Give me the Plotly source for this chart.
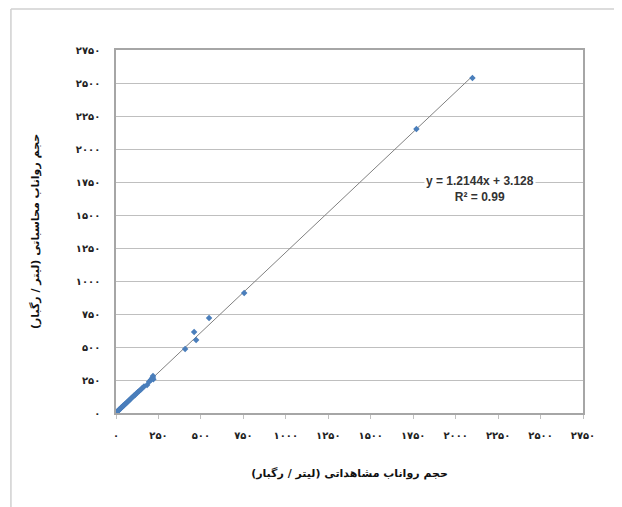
import plotly.graph_objects as go

# observed (x) vs simulated (y) runoff volume, litre per storm
observed = [3, 6, 9, 12, 15, 18, 22, 26, 30, 34, 38, 42, 47, 52, 58, 64, 70, 76, 83, 90,
            98, 105, 112, 120, 128, 136, 145, 155, 165, 183, 195, 205, 212, 216, 218, 220,
            407, 460, 472, 548, 755, 1769, 2099]
simulated = [6, 9, 13, 16, 20, 24, 29, 34, 39, 44, 48, 54, 59, 66, 72, 80, 88, 95, 103, 112,
             121, 130, 137, 148, 157, 166, 176, 190, 201, 212, 236, 250, 262, 268, 280, 255,
             485, 614, 553, 720, 909, 2151, 2538]

trend_slope = 1.2144
trend_intercept = 3.128
trend_r2 = 0.99

tick_vals = [0, 250, 500, 750, 1000, 1250, 1500, 1750, 2000, 2250, 2500, 2750]
tick_text = ["۰", "۲۵۰", "۵۰۰", "۷۵۰", "۱۰۰۰", "۱۲۵۰", "۱۵۰۰", "۱۷۵۰", "۲۰۰۰", "۲۲۵۰", "۲۵۰۰", "۲۷۵۰"]

x_title = "حجم رواناب مشاهداتی (لیتر / رگبار)"
y_title = "حجم رواناب محاسباتی (لیتر / رگبار)"

trend_x = [0, max(observed)]
trend_y = [trend_slope * v + trend_intercept for v in trend_x]

fig = go.Figure()
fig.add_trace(go.Scatter(x=trend_x, y=trend_y, mode="lines",
                         line=dict(color="#808080", width=1), hoverinfo="skip"))
fig.add_trace(go.Scatter(x=observed, y=simulated, mode="markers",
                         marker=dict(symbol="diamond", size=5, color="#4A7EBB")))

font_family = "DejaVu Sans, Noto Sans"
axis_common = dict(range=[0, 2750], tickvals=tick_vals, ticktext=tick_text,
                   tickfont=dict(family=font_family, size=10, color="#222222", weight="bold"),
                   showline=True, linecolor="#A6A6A6", linewidth=1.5, mirror=True,
                   zeroline=False, automargin=False)

fig.update_xaxes(**axis_common, showgrid=False, ticks="outside", ticklen=4, tickcolor="#BFBFBF",
                 ticklabelstandoff=8,
                 title=dict(text=x_title, font=dict(family=font_family, size=11, color="#111111", weight="bold"),
                            standoff=30))
fig.update_yaxes(**axis_common, showgrid=True, gridcolor="#BFBFBF", gridwidth=1, ticks="",
                 ticklabelstandoff=12,
                 title=dict(text=y_title, font=dict(family=font_family, size=11, color="#111111", weight="bold"),
                            standoff=34))

fig.add_annotation(x=2146, y=1700, xref="x", yref="y",
                   text=f"y = {trend_slope}x + {trend_intercept}<br>R² = {trend_r2}",
                   showarrow=False, align="center",
                   font=dict(family="Liberation Sans, Arial", size=12, color="#333333", weight="bold"),
                   bgcolor="white")

# outer chart border (left and top)
fig.add_shape(type="line", xref="paper", yref="paper", x0=-0.225, x1=-0.225, y0=-0.3, y1=1.113,
              line=dict(color="#D0D0D0", width=1.5))
fig.add_shape(type="line", xref="paper", yref="paper", x0=-0.225, x1=1.1, y0=1.113, y1=1.113,
              line=dict(color="#D0D0D0", width=1.5))

fig.update_layout(width=614, height=499, showlegend=False,
                  margin=dict(l=108, r=39, t=42, b=94),
                  paper_bgcolor="white", plot_bgcolor="white")

fig.write_html("out.html")
